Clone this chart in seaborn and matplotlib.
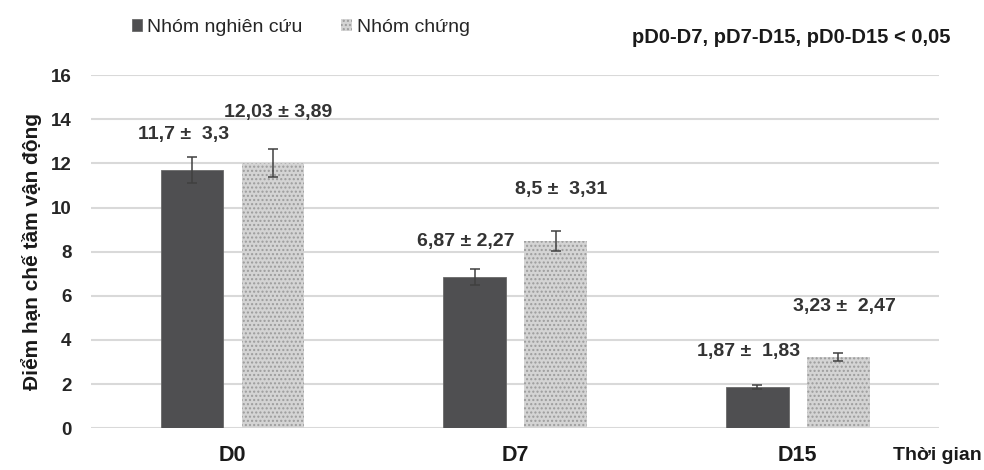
import numpy as np
import pandas as pd
import seaborn as sns
import matplotlib.pyplot as plt

# data
days = ["D0", "D7", "D15"]
groups = ["Nhóm nghiên cứu", "Nhóm chứng"]
study_mean = [11.7, 6.87, 1.87]
control_mean = [12.03, 8.5, 3.23]
study_err = [0.59, 0.36, 0.08]
control_err = [0.63, 0.45, 0.18]
study_lbl = ["11,7 ±  3,3", "6,87 ± 2,27", "1,87 ±  1,83"]
control_lbl = ["12,03 ± 3,89", "8,5 ±  3,31", "3,23 ±  2,47"]
yticks = [0, 2, 4, 6, 8, 10, 12, 14, 16]

df = pd.DataFrame({
    "day": days * 2,
    "group": [groups[0]] * 3 + [groups[1]] * 3,
    "value": study_mean + control_mean,
})

sns.set_style("white")
plt.rcParams['font.family'] = ['Liberation Sans', 'DejaVu Sans']

fig = plt.figure(figsize=(9.84, 4.70), dpi=100)
ax = fig.add_axes([0.0925, 0.089, 0.862, 0.751])

sns.barplot(data=df, x="day", y="value", hue="group", order=days,
            hue_order=groups, palette=["#4f4f51", "#d4d4d4"],
            width=0.573, gap=0.23, ax=ax, legend=False, saturation=1)

bars = ax.patches
dark = bars[:3]
light = bars[3:6]
for p in dark:
    p.set_edgecolor("#6a6a6a")
    p.set_linewidth(0.6)
for p in light:
    p.set_hatch("....")
    p.set_edgecolor("#9c9c9c")
    p.set_linewidth(0)

xs_d = [p.get_x() + p.get_width() / 2 for p in dark]
xs_l = [p.get_x() + p.get_width() / 2 for p in light]
ax.errorbar(xs_d, study_mean, yerr=study_err, fmt="none", ecolor="#404040",
            elinewidth=1.1, capsize=3.5, capthick=1.1)
ax.errorbar(xs_l, control_mean, yerr=control_err, fmt="none", ecolor="#404040",
            elinewidth=1.1, capsize=3.5, capthick=1.1)

for x, v, t in zip(xs_d, study_mean, study_lbl):
    ax.text(x - 0.03, v + 1.6, t, ha="center", va="center", fontsize=14,
            fontweight="bold", color="#333333")
for x, v, t in zip(xs_l, control_mean, control_lbl):
    ax.text(x + 0.02, v + 2.3, t, ha="center", va="center", fontsize=14,
            fontweight="bold", color="#333333")

ax.set_xlim(-0.5, 2.5)
ax.set_ylim(0, 16)
ax.set_yticks(yticks)
ax.set_yticklabels([str(t) for t in yticks], fontsize=13.5, fontweight="bold", color="#262626")
ax.yaxis.grid(True, color="#d9d9d9", linewidth=1.5)
ax.set_axisbelow(True)
ax.tick_params(axis="y", length=0, pad=14)
ax.tick_params(axis="x", length=0, pad=12)
ax.set_xticks(range(3))
ax.set_xticklabels(days, fontsize=15.5, fontweight="bold", color="#1a1a1a")
for s in ax.spines.values():
    s.set_visible(False)
ax.set_xlabel("")
ax.set_ylabel("Điểm hạn chế tầm vận động", fontsize=15, fontweight="bold",
              color="#1a1a1a", labelpad=6)

fig.text(0.908, 0.012, "Thời gian", fontsize=14, fontweight="bold", color="#1a1a1a",
         ha="left", va="bottom")
fig.text(0.966, 0.92, "pD0-D7, pD7-D15, pD0-D15 < 0,05", fontsize=14.5,
         fontweight="bold", color="#1a1a1a", ha="right", va="center")

leg = fig.legend(handles=[dark[0], light[0]], labels=groups, loc="center left",
                 bbox_to_anchor=(0.116, 0.942), ncol=2, frameon=False,
                 fontsize=14, handlelength=0.55, handleheight=0.55,
                 handletextpad=0.25, columnspacing=2.0)

fig.savefig("out.png", dpi=100)
